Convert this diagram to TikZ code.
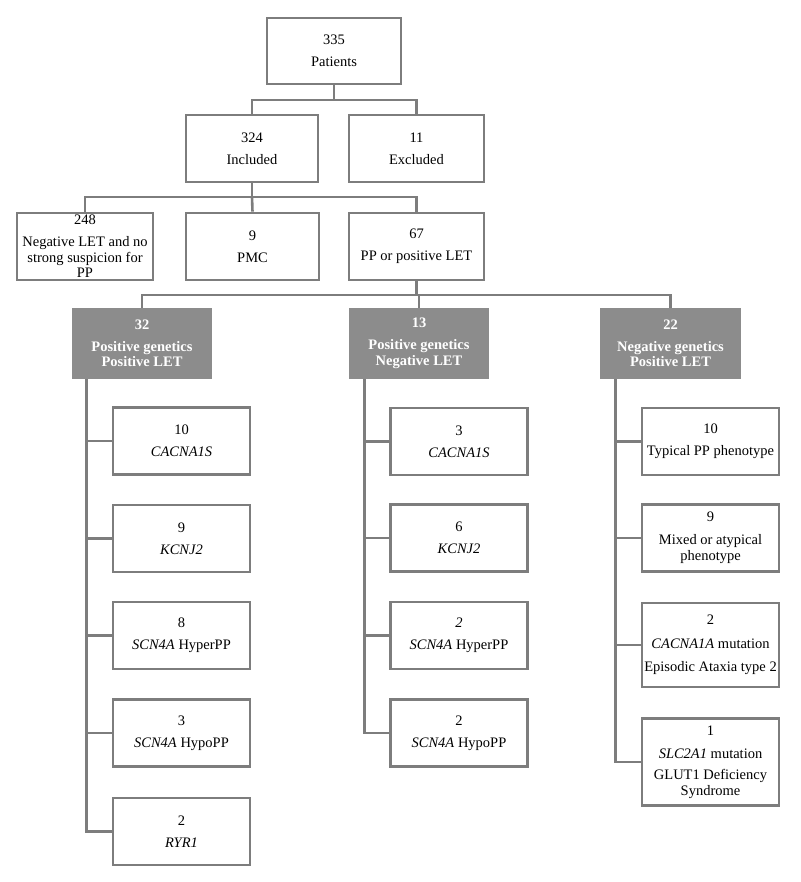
\documentclass[tikz,border=0pt]{standalone}
\usepackage{fontspec}
\setmainfont{Liberation Serif}
\definecolor{linegray}{RGB}{125,125,125}
\definecolor{fillgray}{RGB}{140,140,140}
\tikzset{
  base/.style={line width=2.6pt, align=center, inner sep=0pt,
    font=\fontsize{14.5}{15.5}\selectfont},
  wbox/.style={base, draw=linegray, fill=white, text=black},
  cbox/.style={wbox, minimum width=137pt, minimum height=67pt},
  gbox/.style={base, draw=fillgray, fill=fillgray, text=white,
    font=\fontsize{14.5}{15.5}\selectfont\bfseries,
    minimum width=138pt, minimum height=69pt},
  conn/.style={draw=linegray, line width=2.6pt, line join=miter}
}
\begin{document}
\begin{tikzpicture}[x=1pt,y=-1pt]
\useasboundingbox (0,0) rectangle (800,882);
% top levels
\node[wbox, minimum width=134pt, minimum height=66pt] (top) at (334,51) {335\\[6.5pt]Patients};
\node[wbox, minimum width=132pt, minimum height=67pt] (inc) at (252,148.5) {324\\[6.5pt]Included};
\node[wbox, minimum width=135pt, minimum height=67pt] (exc) at (416.5,148.5) {11\\[6.5pt]Excluded};
\node[wbox, minimum width=136pt, minimum height=67pt] (neg) at (85,246.5) {248\\[6.5pt]Negative LET and no\\strong suspicion for\\PP};
\node[wbox, minimum width=133pt, minimum height=67pt] (pmc) at (252.5,246.5) {9\\[6.5pt]PMC};
\node[wbox, minimum width=135pt, minimum height=67pt] (pp) at (416.5,246.5) {67\\[6.5pt]PP or positive LET};
% grey group boxes
\node[gbox] (g1) at (142,343.5) {32\\[6.5pt]Positive genetics\\Positive LET};
\node[gbox] (g2) at (419,343.5) {13\\[6.5pt]Positive genetics\\Negative LET};
\node[gbox] (g3) at (670.5,343.5) {22\\[6.5pt]Negative genetics\\Positive LET};
% column A
\node[cbox] (a1) at (181.5,441) {10\\[6.5pt]\textit{CACNA1S}};
\node[cbox] (a2) at (181.5,538.5) {9\\[6.5pt]\textit{KCNJ2}};
\node[cbox] (a3) at (181.5,635.5) {8\\[6.5pt]\textit{SCN4A} HyperPP};
\node[cbox] (a4) at (181.5,733) {3\\[6.5pt]\textit{SCN4A} HypoPP};
\node[cbox] (a5) at (181.5,831.5) {2\\[6.5pt]\textit{RYR1}};
% column B
\node[cbox] (b1) at (459,441.5) {3\\[6.5pt]\textit{CACNA1S}};
\node[cbox] (b2) at (459,538) {6\\[6.5pt]\textit{KCNJ2}};
\node[cbox] (b3) at (459,635.5) {\textit{2}\\[6.5pt]\textit{SCN4A} HyperPP};
\node[cbox] (b4) at (459,733) {2\\[6.5pt]\textit{SCN4A} HypoPP};
% column C
\node[cbox] (c1) at (710.5,441.5) {10\\[6.5pt]Typical PP phenotype};
\node[cbox] (c2) at (710.5,538) {9\\[7.5pt]Mixed or atypical\\phenotype};
\node[cbox, minimum height=84pt] (c3) at (710.5,645) {2\\[8pt]\textit{CACNA1A} mutation\\[7.5pt]Episodic Ataxia type 2};
\node[cbox, minimum height=87pt] (c4) at (710.5,762) {1\\[7.5pt]\textit{SLC2A1} mutation\\[6pt]GLUT1 Deficiency\\Syndrome};
% connectors
\coordinate (j1) at (334,100);
\draw[conn] (top.south) -- (j1);
\draw[conn] (j1) -| (inc.north);
\draw[conn] (j1) -| (exc.north);
\coordinate (j2) at (252,197);
\draw[conn] (inc.south) -- (j2);
\draw[conn] (j2) -| (neg.north);
\draw[conn] (j2) -- (pmc.north);
\draw[conn] (j2) -| (pp.north);
\coordinate (j3) at (416.5,295);
\draw[conn] (pp.south) -- (j3);
\draw[conn] (j3) -| (g1.north);
\draw[conn] (j3) -| (g2.north);
\draw[conn] (j3) -| (g3.north);
\coordinate (va) at ([xshift=15pt]g1.south west);
\coordinate (vb) at ([xshift=16pt]g2.south west);
\coordinate (vc) at ([xshift=15pt]g3.south west);
\foreach \n in {a1,a2,a3,a4,a5} {\draw[conn] (va) |- (\n.west);}
\foreach \n in {b1,b2,b3,b4} {\draw[conn] (vb) |- (\n.west);}
\foreach \n in {c1,c2,c3,c4} {\draw[conn] (vc) |- (\n.west);}
\end{tikzpicture}
\end{document}
